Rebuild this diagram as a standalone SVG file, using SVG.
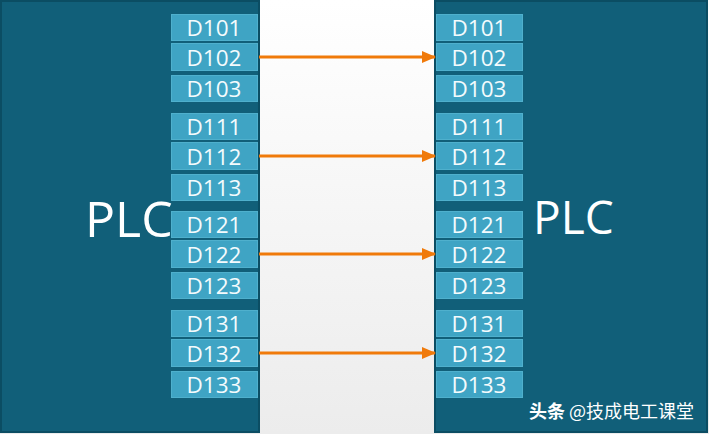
<svg xmlns="http://www.w3.org/2000/svg" width="709" height="434" viewBox="0 0 709 434">
  <defs>
    <linearGradient id="bg" x1="0" y1="0" x2="0" y2="1">
      <stop offset="0" stop-color="#ffffff"/>
      <stop offset="1" stop-color="#ececec"/>
    </linearGradient>
    <marker id="ah" markerWidth="14" markerHeight="12" refX="13" refY="6" orient="auto" markerUnits="userSpaceOnUse">
      <path d="M0,0 L14,6 L0,12 Z" fill="#f07a0a"/>
    </marker>
    <style>
      .plc { fill: #115f79; stroke: #0b4d63; stroke-width: 2; }
      .reg { fill: #3fa4c4; stroke: #4fb0cd; stroke-width: 1; }
      .rt { font-family: "Open Sans", "Liberation Sans", sans-serif; font-size: 22.5px; fill: #f4fbfd; text-anchor: middle; }
      .big { font-family: "Open Sans", "Liberation Sans", sans-serif; fill: #ffffff; }
      .conn { stroke: #f07a0a; stroke-width: 3; fill: none; marker-end: url(#ah); }
    </style>
  </defs>
  <rect x="0" y="0" width="709" height="434" fill="url(#bg)"/>

  <g id="plc-left">
    <rect class="plc" x="1" y="1" width="258" height="431"/>
    <text class="big" x="85" y="237" font-size="50">PLC</text>
    <rect class="reg" x="171.5" y="14.5" width="86" height="26"/>
    <text class="rt" x="214" y="35.5">D101</text>
    <rect class="reg" x="171.5" y="43.5" width="86" height="27"/>
    <text class="rt" x="214" y="65.5">D102</text>
    <rect class="reg" x="171.5" y="75.5" width="86" height="26"/>
    <text class="rt" x="214" y="96.5">D103</text>
    <rect class="reg" x="171.5" y="113.5" width="86" height="26"/>
    <text class="rt" x="214" y="134.5">D111</text>
    <rect class="reg" x="171.5" y="142.5" width="86" height="27"/>
    <text class="rt" x="214" y="164.5">D112</text>
    <rect class="reg" x="171.5" y="174.5" width="86" height="26"/>
    <text class="rt" x="214" y="195.5">D113</text>
    <rect class="reg" x="171.5" y="211.5" width="86" height="26"/>
    <text class="rt" x="214" y="232.5">D121</text>
    <rect class="reg" x="171.5" y="240.5" width="86" height="27"/>
    <text class="rt" x="214" y="262.5">D122</text>
    <rect class="reg" x="171.5" y="272.5" width="86" height="26"/>
    <text class="rt" x="214" y="293.5">D123</text>
    <rect class="reg" x="171.5" y="310.5" width="86" height="26"/>
    <text class="rt" x="214" y="331.5">D131</text>
    <rect class="reg" x="171.5" y="339.5" width="86" height="27"/>
    <text class="rt" x="214" y="361.5">D132</text>
    <rect class="reg" x="171.5" y="371.5" width="86" height="26"/>
    <text class="rt" x="214" y="392.5">D133</text>
  </g>

  <g id="plc-right">
    <rect class="plc" x="435" y="1" width="272" height="431"/>
    <text class="big" x="533" y="234" font-size="46">PLC</text>
    <rect class="reg" x="436.5" y="14.5" width="86" height="26"/>
    <text class="rt" x="479" y="35.5">D101</text>
    <rect class="reg" x="436.5" y="43.5" width="86" height="27"/>
    <text class="rt" x="479" y="65.5">D102</text>
    <rect class="reg" x="436.5" y="75.5" width="86" height="26"/>
    <text class="rt" x="479" y="96.5">D103</text>
    <rect class="reg" x="436.5" y="113.5" width="86" height="26"/>
    <text class="rt" x="479" y="134.5">D111</text>
    <rect class="reg" x="436.5" y="142.5" width="86" height="27"/>
    <text class="rt" x="479" y="164.5">D112</text>
    <rect class="reg" x="436.5" y="174.5" width="86" height="26"/>
    <text class="rt" x="479" y="195.5">D113</text>
    <rect class="reg" x="436.5" y="211.5" width="86" height="26"/>
    <text class="rt" x="479" y="232.5">D121</text>
    <rect class="reg" x="436.5" y="240.5" width="86" height="27"/>
    <text class="rt" x="479" y="262.5">D122</text>
    <rect class="reg" x="436.5" y="272.5" width="86" height="26"/>
    <text class="rt" x="479" y="293.5">D123</text>
    <rect class="reg" x="436.5" y="310.5" width="86" height="26"/>
    <text class="rt" x="479" y="331.5">D131</text>
    <rect class="reg" x="436.5" y="339.5" width="86" height="27"/>
    <text class="rt" x="479" y="361.5">D132</text>
    <rect class="reg" x="436.5" y="371.5" width="86" height="26"/>
    <text class="rt" x="479" y="392.5">D133</text>
  </g>

  <g id="connectors">
    <line class="conn" x1="259" y1="57" x2="435" y2="57"/>
    <line class="conn" x1="259" y1="156" x2="435" y2="156"/>
    <line class="conn" x1="259" y1="254" x2="435" y2="254"/>
    <line class="conn" x1="259" y1="353" x2="435" y2="353"/>
  </g>

  <text x="529" y="418" font-family="'Noto Sans CJK SC', sans-serif" font-size="18" fill="#ffffff"><tspan font-weight="bold">头条</tspan> @技成电工课堂</text>
</svg>
